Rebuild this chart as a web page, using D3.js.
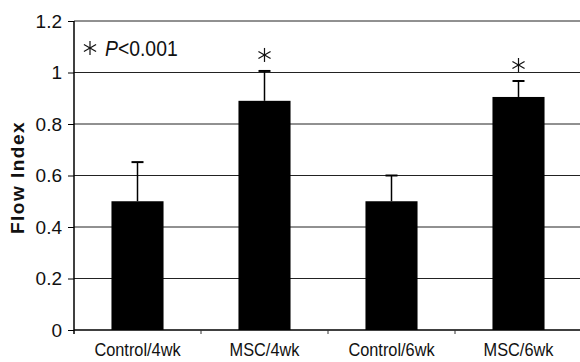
<!DOCTYPE html>
<html>
<head>
<meta charset="utf-8">
<script src="https://cdn.jsdelivr.net/npm/d3@7"></script>
<style>
  body { margin: 0; background: #fff; }
  svg { display: block; font-family: "Liberation Sans", Arial, sans-serif; }
</style>
</head>
<body>
<svg id="chart" width="580" height="362"></svg>
<script>
// values
const groups = ["Control/4wk", "MSC/4wk", "Control/6wk", "MSC/6wk"];
const flowIndex = [0.5, 0.89, 0.5, 0.905];
const errorTop = [0.652, 1.006, 0.6, 0.967];
const significant = [false, true, false, true];
const yTicks = [0, 0.2, 0.4, 0.6, 0.8, 1, 1.2];

const svg = d3.select("#chart");
const margin = { top: 21, right: -2, bottom: 32, left: 74 };
const width = 580 - margin.left - margin.right;
const height = 362 - margin.top - margin.bottom;

const g = svg.append("g").attr("transform", `translate(${margin.left},${margin.top})`);

const x = d3.scaleBand().domain(groups).range([0, width]).paddingInner(0.59).paddingOuter(0.295);
const xTicks = d3.scaleBand().domain(groups).range([0, width]);
const y = d3.scaleLinear().domain([0, 1.2]).range([height, 0]);

// gridlines
g.selectAll(".grid")
  .data(yTicks.filter(d => d > 0))
  .enter().append("line")
  .attr("x1", 0).attr("x2", width)
  .attr("y1", d => y(d)).attr("y2", d => y(d))
  .attr("stroke", "#222").attr("stroke-width", 1);

// y axis
const yAxis = d3.axisLeft(y).tickValues(yTicks).tickSize(6).tickPadding(6)
  .tickFormat(d => d === 0 || d === 1 ? String(d) : d3.format(".1f")(d));
const ya = g.append("g").call(yAxis);
ya.select(".domain").remove();
ya.selectAll("text").attr("font-size", 19).attr("fill", "#111");
g.append("line").attr("x1", 0).attr("x2", 0).attr("y1", 0).attr("y2", height + 4)
  .attr("stroke", "#000").attr("stroke-width", 1.5);

// x axis baseline and separator ticks
g.append("line").attr("x1", 0).attr("x2", width).attr("y1", height).attr("y2", height)
  .attr("stroke", "#000").attr("stroke-width", 1.5);
g.selectAll(".xt")
  .data(groups.slice(1))
  .enter().append("line")
  .attr("x1", d => xTicks(d)).attr("x2", d => xTicks(d))
  .attr("y1", height).attr("y2", height + 4)
  .attr("stroke", "#333");
g.selectAll(".xl")
  .data(groups)
  .enter().append("text")
  .attr("transform", d => `translate(${xTicks(d) + xTicks.bandwidth() / 2},${height + 26}) scale(0.86,1)`)
  .attr("text-anchor", "middle")
  .attr("font-size", 19)
  .attr("fill", "#111")
  .text(d => d);

// error bars
const cap = 12;
g.selectAll(".err")
  .data(groups)
  .enter().append("line")
  .attr("x1", d => x(d) + x.bandwidth() / 2).attr("x2", d => x(d) + x.bandwidth() / 2)
  .attr("y1", (d, i) => y(flowIndex[i])).attr("y2", (d, i) => y(errorTop[i]))
  .attr("stroke", "#000").attr("stroke-width", 1.5);
g.selectAll(".cap")
  .data(groups)
  .enter().append("line")
  .attr("x1", d => x(d) + x.bandwidth() / 2 - cap / 2).attr("x2", d => x(d) + x.bandwidth() / 2 + cap / 2)
  .attr("y1", (d, i) => y(errorTop[i])).attr("y2", (d, i) => y(errorTop[i]))
  .attr("stroke", "#000").attr("stroke-width", 2);

// bars
g.selectAll(".bar")
  .data(groups)
  .enter().append("rect")
  .attr("x", d => x(d))
  .attr("width", x.bandwidth())
  .attr("y", (d, i) => y(flowIndex[i]))
  .attr("height", (d, i) => height - y(flowIndex[i]))
  .attr("fill", "#000");

// six-spoke asterisk
function star(sel, cx, cy, r) {
  const s = sel.append("g").attr("transform", `translate(${cx},${cy})`);
  [0, 60, 120].forEach(a => {
    const rad = a * Math.PI / 180;
    s.append("line")
      .attr("x1", -r * Math.sin(rad)).attr("y1", -r * Math.cos(rad))
      .attr("x2", r * Math.sin(rad)).attr("y2", r * Math.cos(rad))
      .attr("stroke", "#111").attr("stroke-width", 1.2);
  });
}

groups.forEach((d, i) => {
  if (significant[i]) star(g, x(d) + x.bandwidth() / 2, y(errorTop[i]) - 16, 7);
});

// legend note
star(g, 16, 27, 7);
const note = g.append("text").attr("transform", "translate(31,35) scale(0.88,1)")
  .attr("font-size", 22).attr("fill", "#111");
note.append("tspan").attr("font-style", "italic").text("P");
note.append("tspan").text("<0.001");

// y label
svg.append("text")
  .attr("transform", `translate(24,${margin.top + height / 2 + 2}) rotate(-90)`)
  .attr("text-anchor", "middle")
  .attr("font-size", 19)
  .attr("letter-spacing", 1.5)
  .attr("font-weight", "bold")
  .attr("fill", "#111")
  .text("Flow Index");
</script>
</body>
</html>
